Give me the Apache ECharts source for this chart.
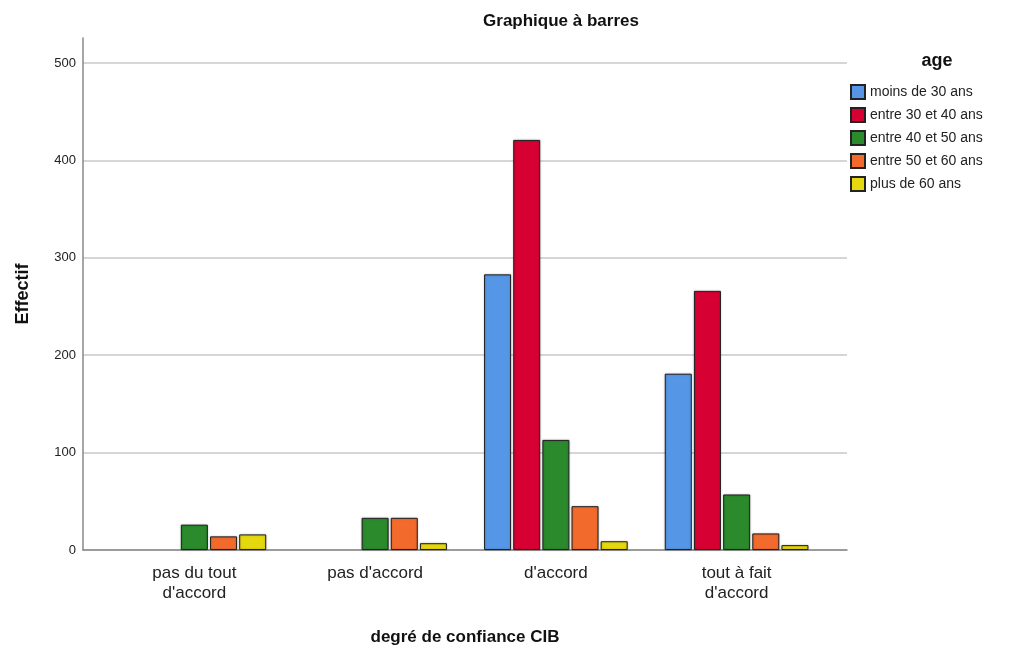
<!DOCTYPE html>
<html>
<head>
<meta charset="utf-8">
<script src="https://cdn.jsdelivr.net/npm/echarts@6/dist/echarts.min.js"></script>
<style>html,body{margin:0;padding:0;background:#fff}#c{width:1018px;height:650px}</style>
</head>
<body>
<div id="c"></div>
<script>
const categories = ["pas du tout\nd'accord", "pas d'accord", "d'accord", "tout à fait\nd'accord"];
const seriesNames = ["moins de 30 ans", "entre 30 et 40 ans", "entre 40 et 50 ans", "entre 50 et 60 ans", "plus de 60 ans"];
const moins30 = [0, 0, 283, 181];
const entre30_40 = [0, 0, 421, 266];
const entre40_50 = [26, 33, 113, 57];
const entre50_60 = [14, 33, 45, 17];
const plus60 = [16, 7, 9, 5];
const yTicks = [0, 100, 200, 300, 400, 500];
const colors = ["#5596E6", "#D60032", "#2A8A2C", "#F36B2C", "#E5D80E"];
const values = [moins30, entre30_40, entre40_50, entre50_60, plus60];

const FONT = "'Liberation Sans', Arial, sans-serif";
const chart = echarts.init(document.getElementById('c'));
const series = seriesNames.map((n, i) => ({
  name: n, type: 'bar', xAxisIndex: 1, yAxisIndex: 1,
  data: values[i].map(v => v === 0 ? null : v),
  barWidth: 27, barGap: '8%',
  itemStyle: { color: colors[i], borderColor: '#222', borderWidth: 1,
    shadowColor: 'rgba(0,0,0,0.25)', shadowBlur: 2 },
  emphasis: { disabled: true }
}));
chart.setOption({
  animation: false,
  backgroundColor: '#fff',
  textStyle: { fontFamily: FONT },
  title: [
    { text: 'Graphique à barres', left: 556, top: 8, textAlign: 'center',
      textStyle: { fontFamily: FONT, fontSize: 17, fontWeight: 'bold', color: '#111' } },
    { text: 'age', left: 932, top: 47, textAlign: 'center',
      textStyle: { fontFamily: FONT, fontSize: 18, fontWeight: 'bold', color: '#111' } }
  ],
  legend: {
    orient: 'vertical', left: 845, top: 79, itemWidth: 14, itemHeight: 14, itemGap: 7,
    icon: 'rect', selectedMode: false,
    textStyle: { fontFamily: FONT, fontSize: 14, color: '#222' },
    data: seriesNames
  },
  grid: [
    { left: 83, right: 171, top: 63, bottom: 100, outerBoundsMode: 'none', containLabel: false },
    { left: 104, right: 191, top: 63, bottom: 100, outerBoundsMode: 'none', containLabel: false },
    { left: 83, right: 171, top: 38, bottom: 100, outerBoundsMode: 'none', containLabel: false }
  ],
  xAxis: [
    { type: 'category', gridIndex: 0, data: [''], axisTick: { show: false }, axisLabel: { show: false },
      axisLine: { lineStyle: { color: '#888', width: 1.5 } },
      name: 'degré de confiance CIB', nameLocation: 'middle', nameGap: 79,
      nameTextStyle: { fontFamily: FONT, fontSize: 17, fontWeight: 'bold', color: '#111' } },
    { type: 'category', gridIndex: 1, data: categories, axisLine: { show: false }, axisTick: { show: false },
      axisLabel: { fontFamily: FONT, fontSize: 17, color: '#222', lineHeight: 20, margin: 13, interval: 0 } },
    { type: 'category', gridIndex: 2, data: [''], show: false }
  ],
  yAxis: [
    { type: 'value', gridIndex: 0, min: 0, max: 500, interval: 100,
      axisLine: { show: false }, axisTick: { show: false },
      axisLabel: { fontFamily: FONT, fontSize: 13, color: '#222', margin: 7 },
      splitLine: { lineStyle: { color: '#c8c8c8', width: 1.5 } } },
    { type: 'value', gridIndex: 1, min: 0, max: 500, interval: 100, show: false },
    { type: 'value', gridIndex: 2, min: 0, max: 1, interval: 1,
      axisLine: { show: true, lineStyle: { color: '#888', width: 1.5 } }, axisTick: { show: false },
      axisLabel: { show: false }, splitLine: { show: false },
      name: 'Effectif', nameLocation: 'middle', nameGap: 51, nameRotate: 90,
      nameTextStyle: { fontFamily: FONT, fontSize: 18, fontWeight: 'bold', color: '#111' } }
  ],
  series: series
});
</script>
</body>
</html>
